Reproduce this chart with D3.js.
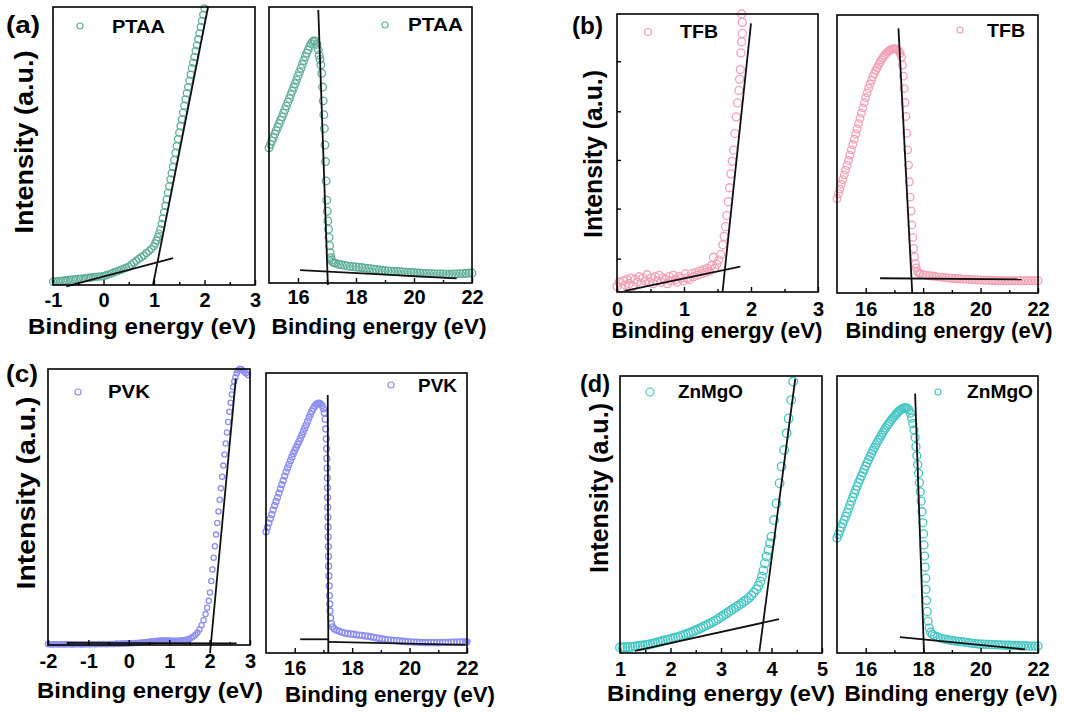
<!DOCTYPE html>
<html>
<head>
<meta charset="utf-8">
<script src="https://cdn.jsdelivr.net/npm/d3@7"></script>
<style>
  body { margin: 0; background: #fff; }
  svg { display: block; }
</style>
</head>
<body>
<svg width="1065" height="715"></svg>
<script>
// UPS spectra, intensity read as fraction of each plot height (0 = bottom, 1 = top)

const ptaaLow = [[-1.00,.012],[-0.95,.013],[-0.90,.014],[-0.85,.015],[-0.80,.016],[-0.75,.017],[-0.70,.018],[-0.65,.019],[-0.60,.020],[-0.55,.021],[-0.50,.022],[-0.45,.023],[-0.40,.024],[-0.35,.025],[-0.30,.026],[-0.25,.027],[-0.20,.028],[-0.15,.029],[-0.10,.030],[-0.05,.031],[0.00,.032],[0.05,.035],[0.10,.038],[0.15,.041],[0.20,.045],[0.25,.048],[0.30,.052],[0.35,.055],[0.40,.059],[0.45,.062],[0.50,.066],[0.55,.073],[0.60,.080],[0.65,.087],[0.70,.094],[0.75,.100],[0.80,.106],[0.85,.115],[0.90,.122],[0.95,.130],[1.00,.140],[1.025,.150],[1.05,.160],[1.075,.172],[1.10,.185],[1.125,.200],[1.15,.220],[1.175,.240],[1.20,.262],[1.225,.285],[1.25,.308],[1.275,.332],[1.30,.355],[1.325,.380],[1.35,.402],[1.375,.425],[1.40,.450],[1.425,.475],[1.45,.500],[1.475,.525],[1.50,.548],[1.525,.572],[1.55,.596],[1.575,.620],[1.60,.645],[1.625,.668],[1.65,.690],[1.675,.712],[1.70,.735],[1.725,.757],[1.75,.780],[1.775,.800],[1.80,.820],[1.825,.842],[1.85,.862],[1.875,.884],[1.90,.905],[1.925,.928],[1.95,.950],[1.975,.972],[2.00,.995]];
const ptaaHigh = [[15.00,.490],[15.05,.502],[15.10,.515],[15.15,.527],[15.20,.540],[15.25,.552],[15.30,.565],[15.35,.577],[15.40,.590],[15.45,.602],[15.50,.615],[15.55,.628],[15.60,.641],[15.65,.655],[15.70,.668],[15.75,.682],[15.80,.695],[15.85,.709],[15.90,.722],[15.95,.736],[16.00,.750],[16.05,.764],[16.10,.778],[16.15,.792],[16.20,.806],[16.25,.820],[16.30,.833],[16.35,.845],[16.40,.857],[16.45,.867],[16.50,.874],[16.55,.877],[16.60,.876],[16.65,.865],[16.70,.845],[16.73,.825],[16.76,.810],[16.79,.790],[16.82,.760],[16.85,.710],[16.87,.660],[16.89,.610],[16.91,.560],[16.93,.500],[16.95,.440],[16.97,.370],[16.99,.300],[17.01,.260],[17.03,.225],[17.05,.195],[17.07,.165],[17.09,.135],[17.11,.110],[17.13,.092],[17.16,.082],[17.20,.076],[17.25,.073],[17.30,.071],[17.40,.068],[17.50,.066],[17.60,.064],[17.70,.062],[17.80,.060],[17.90,.059],[18.00,.058],[18.10,.057],[18.20,.056],[18.30,.054],[18.40,.053],[18.50,.052],[18.60,.050],[18.70,.049],[18.80,.047],[18.90,.046],[19.00,.045],[19.10,.044],[19.20,.043],[19.30,.042],[19.40,.042],[19.50,.041],[19.60,.040],[19.70,.039],[19.80,.038],[19.90,.038],[20.00,.037],[20.10,.036],[20.20,.036],[20.30,.035],[20.40,.035],[20.50,.034],[20.60,.034],[20.70,.033],[20.80,.033],[20.90,.033],[21.00,.033],[21.10,.032],[21.20,.032],[21.30,.032],[21.40,.033],[21.50,.033],[21.60,.034],[21.70,.034],[21.80,.035],[21.90,.036],[22.00,.036]];

const tfbLow = [[0.00,.020],[0.03,.035],[0.06,.015],[0.09,.040],[0.12,.025],[0.15,.045],[0.18,.030],[0.21,.050],[0.24,.020],[0.27,.045],[0.30,.035],[0.33,.055],[0.36,.030],[0.39,.050],[0.42,.040],[0.45,.062],[0.48,.035],[0.51,.050],[0.54,.030],[0.57,.055],[0.60,.040],[0.63,.060],[0.66,.035],[0.69,.050],[0.72,.045],[0.75,.030],[0.78,.055],[0.81,.040],[0.84,.060],[0.87,.045],[0.90,.035],[0.93,.055],[0.96,.050],[0.99,.040],[1.02,.065],[1.05,.050],[1.08,.045],[1.11,.065],[1.14,.055],[1.17,.070],[1.20,.060],[1.23,.075],[1.26,.065],[1.29,.080],[1.32,.070],[1.35,.085],[1.38,.075],[1.41,.095],[1.44,.125],[1.46,.085],[1.49,.100],[1.52,.115],[1.55,.135],[1.58,.170],[1.60,.200],[1.62,.235],[1.64,.275],[1.66,.325],[1.68,.375],[1.70,.425],[1.72,.470],[1.74,.510],[1.76,.570],[1.78,.630],[1.80,.680],[1.82,.725],[1.83,.765],[1.84,.800],[1.85,.860],[1.86,.900],[1.87,.930],[1.87,.970],[1.86,1.00]];
const tfbHigh = [[15.00,.340],[15.05,.357],[15.10,.374],[15.15,.391],[15.20,.408],[15.25,.425],[15.30,.442],[15.35,.459],[15.40,.477],[15.45,.496],[15.50,.515],[15.55,.534],[15.60,.553],[15.65,.572],[15.70,.590],[15.75,.609],[15.80,.628],[15.85,.647],[15.90,.666],[15.95,.685],[16.00,.703],[16.05,.720],[16.10,.736],[16.15,.751],[16.20,.765],[16.25,.778],[16.30,.790],[16.35,.801],[16.40,.811],[16.45,.821],[16.50,.830],[16.55,.839],[16.60,.847],[16.65,.854],[16.70,.860],[16.75,.866],[16.80,.870],[16.85,.874],[16.90,.876],[16.95,.878],[17.00,.879],[17.05,.878],[17.10,.875],[17.15,.870],[17.20,.862],[17.25,.848],[17.28,.820],[17.31,.780],[17.34,.735],[17.37,.685],[17.40,.635],[17.43,.575],[17.46,.515],[17.49,.460],[17.52,.400],[17.55,.345],[17.58,.295],[17.61,.245],[17.64,.200],[17.67,.160],[17.70,.130],[17.73,.105],[17.76,.090],[17.80,.078],[17.85,.072],[17.90,.069],[18.00,.066],[18.10,.064],[18.20,.062],[18.30,.061],[18.40,.060],[18.50,.058],[18.60,.057],[18.70,.056],[18.80,.055],[18.90,.054],[19.00,.053],[19.10,.052],[19.20,.051],[19.30,.051],[19.40,.050],[19.50,.050],[19.60,.049],[19.70,.048],[19.80,.048],[19.90,.047],[20.00,.047],[20.10,.046],[20.20,.046],[20.30,.046],[20.40,.045],[20.50,.045],[20.60,.045],[20.70,.044],[20.80,.044],[20.90,.044],[21.00,.044],[21.10,.044],[21.20,.044],[21.30,.044],[21.40,.044],[21.50,.044],[21.60,.044],[21.70,.044],[21.80,.044],[21.90,.044],[22.00,.044]];

const pvkLow = [[-2.00,.003],[-1.95,.003],[-1.90,.002],[-1.85,.003],[-1.80,.003],[-1.75,.002],[-1.70,.003],[-1.65,.003],[-1.60,.002],[-1.55,.003],[-1.50,.003],[-1.45,.003],[-1.40,.002],[-1.35,.003],[-1.30,.003],[-1.25,.003],[-1.20,.003],[-1.15,.002],[-1.10,.003],[-1.05,.003],[-1.00,.003],[-0.95,.003],[-0.90,.004],[-0.85,.003],[-0.80,.003],[-0.75,.004],[-0.70,.003],[-0.65,.004],[-0.60,.004],[-0.55,.003],[-0.50,.004],[-0.45,.004],[-0.40,.004],[-0.35,.004],[-0.30,.005],[-0.25,.004],[-0.20,.005],[-0.15,.005],[-0.10,.005],[-0.05,.005],[0.00,.006],[0.05,.006],[0.10,.006],[0.15,.007],[0.20,.007],[0.25,.008],[0.30,.008],[0.35,.009],[0.40,.010],[0.45,.011],[0.50,.012],[0.55,.013],[0.60,.014],[0.65,.014],[0.70,.015],[0.75,.015],[0.80,.016],[0.85,.016],[0.90,.016],[0.95,.016],[1.00,.016],[1.05,.015],[1.10,.015],[1.15,.015],[1.20,.015],[1.25,.016],[1.30,.016],[1.35,.017],[1.40,.018],[1.45,.020],[1.50,.022],[1.55,.026],[1.60,.031],[1.65,.037],[1.70,.045],[1.75,.056],[1.80,.072],[1.85,.090],[1.90,.112],[1.94,.135],[1.98,.160],[2.01,.190],[2.04,.232],[2.07,.274],[2.10,.316],[2.13,.358],[2.16,.400],[2.19,.442],[2.22,.484],[2.25,.526],[2.28,.568],[2.31,.610],[2.34,.650],[2.37,.690],[2.40,.730],[2.43,.770],[2.46,.808],[2.49,.845],[2.52,.878],[2.55,.908],[2.58,.935],[2.61,.955],[2.64,.970],[2.67,.985],[2.70,.995],[2.74,1.000],[2.78,1.000],[2.82,.995],[2.86,.990],[2.90,.985],[2.95,.978]];
const pvkHigh = [[15.00,.433],[15.05,.449],[15.10,.464],[15.15,.480],[15.20,.495],[15.25,.511],[15.30,.526],[15.35,.541],[15.40,.556],[15.45,.571],[15.50,.586],[15.55,.601],[15.60,.616],[15.65,.632],[15.70,.647],[15.75,.661],[15.80,.674],[15.85,.687],[15.90,.700],[15.95,.712],[16.00,.723],[16.05,.734],[16.10,.745],[16.15,.756],[16.20,.767],[16.25,.779],[16.30,.791],[16.35,.803],[16.40,.815],[16.45,.828],[16.50,.841],[16.55,.853],[16.60,.864],[16.65,.874],[16.70,.882],[16.75,.888],[16.80,.891],[16.85,.892],[16.90,.890],[16.95,.884],[17.00,.872],[17.03,.858],[17.06,.835],[17.08,.800],[17.10,.765],[17.11,.730],[17.12,.695],[17.13,.660],[17.135,.625],[17.14,.590],[17.145,.555],[17.15,.520],[17.155,.485],[17.16,.450],[17.165,.415],[17.17,.380],[17.175,.345],[17.18,.310],[17.19,.275],[17.20,.240],[17.21,.205],[17.22,.175],[17.23,.150],[17.25,.125],[17.28,.105],[17.32,.093],[17.38,.086],[17.45,.082],[17.55,.078],[17.65,.074],[17.75,.071],[17.85,.069],[17.95,.068],[18.05,.067],[18.15,.065],[18.25,.064],[18.35,.063],[18.45,.061],[18.55,.060],[18.65,.058],[18.75,.056],[18.85,.054],[18.95,.052],[19.05,.050],[19.15,.049],[19.25,.047],[19.35,.046],[19.45,.045],[19.55,.044],[19.65,.043],[19.75,.042],[19.85,.041],[19.95,.040],[20.05,.040],[20.15,.039],[20.25,.039],[20.35,.038],[20.45,.038],[20.55,.037],[20.65,.037],[20.75,.037],[20.85,.037],[20.95,.037],[21.05,.037],[21.15,.038],[21.25,.038],[21.35,.038],[21.45,.039],[21.55,.039],[21.65,.039],[21.75,.040],[21.85,.040],[21.95,.040],[22.00,.040]];

const znmgoLow = [[1.00,.020],[1.05,.020],[1.10,.021],[1.15,.021],[1.20,.022],[1.25,.023],[1.30,.024],[1.35,.025],[1.40,.026],[1.45,.027],[1.50,.028],[1.55,.030],[1.60,.032],[1.65,.034],[1.70,.036],[1.75,.039],[1.80,.041],[1.85,.044],[1.90,.046],[1.95,.048],[2.00,.050],[2.05,.053],[2.10,.055],[2.15,.058],[2.20,.061],[2.25,.064],[2.30,.067],[2.35,.071],[2.40,.074],[2.45,.078],[2.50,.082],[2.55,.086],[2.60,.090],[2.65,.095],[2.70,.099],[2.75,.104],[2.80,.108],[2.85,.113],[2.90,.118],[2.95,.124],[3.00,.130],[3.05,.136],[3.10,.142],[3.15,.148],[3.20,.154],[3.25,.160],[3.30,.166],[3.35,.172],[3.40,.178],[3.45,.185],[3.50,.191],[3.55,.199],[3.60,.208],[3.65,.218],[3.70,.230],[3.74,.242],[3.78,.258],[3.81,.276],[3.84,.298],[3.87,.324],[3.90,.348],[3.94,.372],[3.97,.396],[4.00,.420],[4.05,.480],[4.10,.540],[4.16,.613],[4.20,.673],[4.25,.733],[4.30,.793],[4.34,.847],[4.39,.913],[4.43,.980]];
const znmgoHigh = [[15.00,.415],[15.05,.428],[15.10,.441],[15.15,.454],[15.20,.467],[15.25,.480],[15.30,.493],[15.35,.506],[15.40,.520],[15.45,.534],[15.50,.548],[15.55,.562],[15.60,.576],[15.65,.589],[15.70,.602],[15.75,.615],[15.80,.627],[15.85,.639],[15.90,.651],[15.95,.663],[16.00,.675],[16.05,.687],[16.10,.698],[16.15,.709],[16.20,.720],[16.25,.731],[16.30,.741],[16.35,.751],[16.40,.760],[16.45,.769],[16.50,.778],[16.55,.787],[16.60,.796],[16.65,.805],[16.70,.813],[16.75,.821],[16.80,.828],[16.85,.835],[16.90,.842],[16.95,.849],[17.00,.855],[17.05,.861],[17.10,.867],[17.15,.872],[17.20,.877],[17.25,.880],[17.30,.883],[17.35,.885],[17.40,.885],[17.45,.883],[17.50,.878],[17.55,.866],[17.60,.848],[17.64,.828],[17.68,.805],[17.72,.778],[17.75,.745],[17.78,.712],[17.81,.680],[17.84,.649],[17.87,.615],[17.90,.582],[17.93,.548],[17.96,.510],[17.99,.470],[18.01,.430],[18.03,.390],[18.05,.350],[18.07,.310],[18.09,.270],[18.10,.230],[18.12,.190],[18.14,.150],[18.17,.115],[18.21,.090],[18.26,.075],[18.32,.067],[18.40,.062],[18.50,.058],[18.60,.054],[18.70,.051],[18.80,.049],[18.90,.047],[19.00,.045],[19.10,.044],[19.20,.042],[19.30,.041],[19.40,.040],[19.50,.038],[19.60,.037],[19.70,.035],[19.80,.034],[19.90,.033],[20.00,.032],[20.10,.032],[20.20,.031],[20.30,.031],[20.40,.030],[20.50,.030],[20.60,.029],[20.70,.029],[20.80,.028],[20.90,.028],[21.00,.028],[21.10,.027],[21.20,.027],[21.30,.027],[21.40,.026],[21.50,.026],[21.60,.026],[21.70,.025],[21.80,.025],[21.90,.025],[22.00,.025]];

// linear extrapolation lines drawn on the spectra: [[x1,y1],[x2,y2]]
const ptaaLowFits = [[[0.98,0.0],[2.07,1.0]], [[-0.735,-0.005],[1.38,0.097]]];
const ptaaHighFits = [[[16.70,0.989],[17.03,-0.007]], [[16.07,0.047],[21.47,0.017]]];
const tfbLowFits = [[[1.575,0.0],[2.0,0.966]], [[0.115,0.004],[1.84,0.091]]];
const tfbHighFits = [[[17.14,0.952],[17.62,-0.001]], [[16.50,0.053],[21.43,0.049]]];
const pvkLowFits = [[[2.01,-0.03],[2.65,0.966]], [[-1.54,0.008],[2.67,0.006]]];
const pvkHighFits = [[[17.15,0.921],[17.17,0.0]], [[16.19,0.049],[17.17,0.049]], [[17.17,0.040],[21.95,0.029]]];
const znmgoLowFits = [[[3.76,0.005],[4.47,0.99]], [[1.30,0.008],[4.15,0.122]]];
const znmgoHighFits = [[[17.72,0.937],[18.03,0.0]], [[17.19,0.057],[21.55,0.013]]];

// tick values
const ticksPtaaLow = [-1, 0, 1, 2, 3];
const minorPtaaLow = [-0.5, 0.5, 1.5, 2.5];
const ticksTfbLow = [0, 1, 2, 3];
const minorTfbLow = [0.5, 1.5, 2.5];
const yTicksTfbLow = [0.12, 0.30, 0.475, 0.65, 0.83];
const ticksPvkLow = [-2, -1, 0, 1, 2, 3];
const minorPvkLow = [-1.5, -0.5, 0.5, 1.5, 2.5];
const ticksZnmgoLow = [1, 2, 3, 4, 5];
const minorZnmgoLow = [1.5, 2.5, 3.5, 4.5];
const ticksHigh = [16, 18, 20, 22];
const minorHigh = [17, 19, 21];

const panelLetters = ["(a)", "(b)", "(c)", "(d)"];
const xTitle = "Binding energy (eV)";
const yTitle = "Intensity (a.u.)";

const FONT = "'Liberation Sans', Arial, Helvetica, sans-serif";
const colors = { PTAA: "#5fae98", TFB: "#f4a1b3", PVK: "#8b8df0", ZnMgO: "#45c6c4" };

const plots = [
  { name: "PTAA", data: ptaaLow, fits: ptaaLowFits, xDomain: [-1, 3], ticks: ticksPtaaLow, minor: minorPtaaLow,
    box: [53, 7, 255, 285], r: 3.5, pad: 8, title: [142, 334, 228], legend: [80, 26, 3, 112, 27, 53] },
  { name: "PTAA", data: ptaaHigh, fits: ptaaHighFits, xDomain: [15, 22], ticks: ticksHigh, minor: minorHigh,
    box: [269, 7, 472, 283], r: 3.8, pad: 7, title: [379, 334, 215], legend: [385, 25, 3, 408, 25, 55] },
  { name: "TFB", data: tfbLow, fits: tfbLowFits, xDomain: [0, 3], ticks: ticksTfbLow, minor: minorTfbLow, yTicks: yTicksTfbLow,
    box: [617, 14, 818, 292], r: 4, pad: 10, title: [717, 338, 211], legend: [648, 32, 3.5, 680, 32, 38] },
  { name: "TFB", data: tfbHigh, fits: tfbHighFits, xDomain: [15, 22], ticks: ticksHigh, minor: minorHigh,
    box: [837, 15, 1038, 293], r: 3.8, pad: 9, title: [949, 338, 207], legend: [960, 30, 3, 987, 31, 38] },
  { name: "PVK", data: pvkLow, fits: pvkLowFits, xDomain: [-2, 3], ticks: ticksPvkLow, minor: minorPvkLow,
    box: [48, 369, 250, 645], r: 2.6, pad: 9, title: [150, 698, 226], legend: [78, 392, 3, 108, 392, 42] },
  { name: "PVK", data: pvkHigh, fits: pvkHighFits, xDomain: [15, 22], ticks: ticksHigh, minor: minorHigh,
    box: [266, 373, 467, 653], r: 3, pad: 8, title: [390, 702, 210], legend: [391, 385, 3, 418, 386, 39] },
  { name: "ZnMgO", data: znmgoLow, fits: znmgoLowFits, xDomain: [1, 5], ticks: ticksZnmgoLow, minor: minorZnmgoLow,
    box: [620, 376, 822, 653], r: 4.3, pad: 9, title: [721, 701, 228], legend: [650, 392, 4, 678, 392, 65] },
  { name: "ZnMgO", data: znmgoHigh, fits: znmgoHighFits, xDomain: [15, 22], ticks: ticksHigh, minor: minorHigh,
    box: [837, 376, 1038, 653], r: 4, pad: 9, title: [951, 701, 213], legend: [938, 392, 3, 967, 392, 66] },
];

// panel letters and y titles: [x, y, length]
const letterPos = [[6, 33, 34], [572, 34, 31], [6, 382, 32], [580, 392, 30]];
const yTitlePos = [[33, 142, 183], [602, 154, 168], [35, 493, 193], [608, 488, 170]];

const svg = d3.select("svg");
svg.append("rect").attr("width", 1065).attr("height", 715).attr("fill", "#fff");

const drawPlot = (p) => {
  const [x0, y0, x1, y1] = p.box;
  const x = d3.scaleLinear().domain(p.xDomain).range([x0, x1]);
  const y = d3.scaleLinear().domain([0, 1]).range([y1, y0]);
  const color = colors[p.name];
  const g = svg.append("g");

  g.append("g")
    .selectAll("circle")
    .data(p.data)
    .enter()
    .append("circle")
    .attr("cx", (d) => x(d[0]))
    .attr("cy", (d) => y(d[1]))
    .attr("r", p.r)
    .attr("fill", "none")
    .attr("stroke", color)
    .attr("stroke-width", 1.3);

  const line = d3.line().x((d) => x(d[0])).y((d) => y(d[1]));
  g.selectAll("path.fit")
    .data(p.fits)
    .enter()
    .append("path")
    .attr("class", "fit")
    .attr("d", line)
    .attr("fill", "none")
    .attr("stroke", "#111")
    .attr("stroke-width", 1.8);

  // frame
  g.append("rect")
    .attr("x", x0).attr("y", y0)
    .attr("width", x1 - x0).attr("height", y1 - y0)
    .attr("fill", "none").attr("stroke", "#000").attr("stroke-width", 1.6);

  // bottom axis, ticks inward
  const major = g.append("g")
    .attr("transform", `translate(0,${y1})`)
    .call(d3.axisBottom(x).tickValues(p.ticks).tickSize(-5).tickPadding(p.pad).tickFormat((d) => String(d)));
  major.select(".domain").remove();
  major.selectAll(".tick line").attr("stroke", "#000").attr("stroke-width", 1.4);
  major.selectAll(".tick text")
    .attr("fill", "#000")
    .style("font-family", FONT)
    .style("font-size", "20px")
    .style("font-weight", "bold");

  const minor = g.append("g")
    .attr("transform", `translate(0,${y1})`)
    .call(d3.axisBottom(x).tickValues(p.minor).tickSize(-3).tickFormat(""));
  minor.select(".domain").remove();
  minor.selectAll(".tick line").attr("stroke", "#000").attr("stroke-width", 1.4);

  if (p.yTicks) {
    const ya = g.append("g")
      .attr("transform", `translate(${x0},0)`)
      .call(d3.axisLeft(y).tickValues(p.yTicks).tickSize(-4).tickFormat(""));
    ya.select(".domain").remove();
    ya.selectAll(".tick line").attr("stroke", "#000").attr("stroke-width", 1.4);
  }

  // x title
  const [tx, ty, tl] = p.title;
  g.append("text")
    .attr("x", tx).attr("y", ty)
    .attr("text-anchor", "middle")
    .attr("textLength", tl)
    .attr("lengthAdjust", "spacingAndGlyphs")
    .style("font-family", FONT)
    .style("font-size", "22px")
    .style("font-weight", "bold")
    .text(xTitle);

  // legend
  const [cx, cy, cr, lx, ly, ll] = p.legend;
  g.append("circle")
    .attr("cx", cx).attr("cy", cy).attr("r", cr)
    .attr("fill", "none").attr("stroke", color).attr("stroke-width", 1.2);
  g.append("text")
    .attr("x", lx).attr("y", ly)
    .attr("dy", "0.36em")
    .attr("textLength", ll)
    .attr("lengthAdjust", "spacingAndGlyphs")
    .style("font-family", FONT)
    .style("font-size", "18px")
    .style("font-weight", "bold")
    .text(p.name);
};

plots.forEach(drawPlot);

panelLetters.forEach((t, i) => {
  const [lx, ly, ll] = letterPos[i];
  svg.append("text")
    .attr("x", lx).attr("y", ly)
    .attr("textLength", ll)
    .attr("lengthAdjust", "spacingAndGlyphs")
    .style("font-family", FONT)
    .style("font-size", "23px")
    .style("font-weight", "bold")
    .text(t);

  const [yx, yy, yl] = yTitlePos[i];
  svg.append("text")
    .attr("transform", `translate(${yx},${yy}) rotate(-90)`)
    .attr("text-anchor", "middle")
    .attr("textLength", yl)
    .attr("lengthAdjust", "spacingAndGlyphs")
    .style("font-family", FONT)
    .style("font-size", "25px")
    .style("font-weight", "bold")
    .text(yTitle);
});
</script>
</body>
</html>
